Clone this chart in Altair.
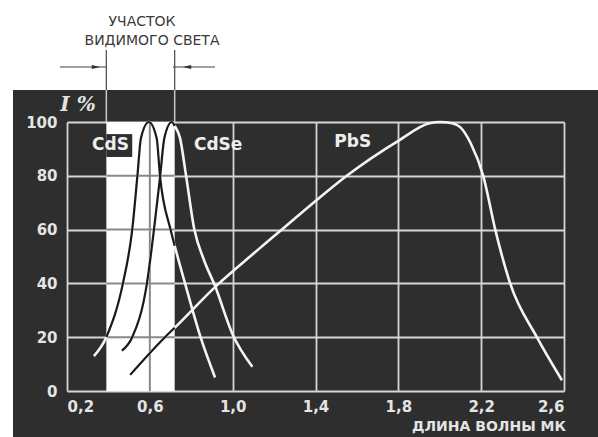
import altair as alt
import pandas as pd

# ---------------- data ----------------
cds_x = [0.33, 0.39, 0.47, 0.515, 0.54, 0.557, 0.595, 0.633, 0.649, 0.70, 0.72, 0.77, 0.845, 0.915]
cds_y = [13, 20, 40, 60, 80, 94, 100, 94, 80, 60, 54, 40, 20, 5]

cdse_x = [0.465, 0.515, 0.586, 0.62, 0.65, 0.67, 0.706, 0.72, 0.746, 0.775, 0.815, 0.86, 0.915, 1.0, 1.095]
cdse_y = [15, 20, 40, 60, 80, 94, 100, 98.5, 94, 80, 60, 49, 39, 21, 9]

pbs_x = [0.505, 0.673, 0.72, 0.92, 1.084, 1.245, 1.406, 1.551, 1.80, 1.95, 2.0, 2.06, 2.10, 2.15, 2.21, 2.268, 2.34, 2.469, 2.59]
pbs_y = [6, 20, 23.5, 39, 50, 60.5, 71, 80, 93, 99.5, 100, 99.5, 98, 92, 80, 60, 40, 20, 4]

band_edges = [0.39, 0.72]          # visible light region (microns)
x_ticks = [0.2, 0.6, 1.0, 1.4, 1.8, 2.2, 2.6]
y_ticks = [0, 20, 40, 60, 80, 100]
band_grid_y = [20, 40, 60, 80]
band_grid_x = [0.6]

curve_names = ["CdS", "CdSe", "PbS"]
label_x = [0.41, 0.93, 1.58]
label_y = [91.4, 91.4, 92.6]

title_lines = ["УЧАСТОК", "ВИДИМОГО СВЕТА"]
y_title = "I %"
x_title = "ДЛИНА ВОЛНЫ МК"

# ---------------- tables ----------------
curves = pd.concat([
    pd.DataFrame({"x": cds_x, "y": cds_y, "s": "CdS"}),
    pd.DataFrame({"x": cdse_x, "y": cdse_y, "s": "CdSe"}),
    pd.DataFrame({"x": pbs_x, "y": pbs_y, "s": "PbS"}),
], ignore_index=True)

lo, hi = band_edges
band_df = pd.DataFrame({"x": [lo], "x1": [hi], "y": [0], "y1": [100]})
edges_df = pd.DataFrame({"x": band_edges})
bgrid_h = pd.DataFrame({"y": band_grid_y, "x": [lo] * len(band_grid_y), "x1": [hi] * len(band_grid_y)})
bgrid_v = pd.DataFrame({"x": band_grid_x, "y": [0], "y1": [100]})
labels_df = pd.DataFrame({"x": label_x, "y": label_y, "t": curve_names})
patch_df = pd.DataFrame({"x": [lo], "x1": [0.515], "y": [87], "y1": [95.5]})
one = pd.DataFrame({"a": [0]})

W, H = 497, 269
BG = "#2e2e2e"
LIGHT = "#e4e4e4"
FONT = "DejaVu Sans"

xs = alt.Scale(domain=[0.2, 2.6], nice=False, zero=False)
ys = alt.Scale(domain=[0, 100], nice=False, zero=False)

label_expr = "replace(format(datum.value, '.1f'), '.', ',')"
AX = alt.Axis(
    values=x_ticks, grid=True, gridColor="#d6d6d6", gridWidth=1.8,
    domain=False, ticks=False, labelExpr=label_expr, labelPadding=8,
    labelFont=FONT, labelFontSize=15, labelFontWeight="bold",
    labelColor=LIGHT, title=None)
AY = alt.Axis(
    values=y_ticks, grid=True, gridColor="#d6d6d6", gridWidth=1.8,
    domain=False, ticks=False, labelPadding=10,
    labelFont=FONT, labelFontSize=15, labelFontWeight="bold",
    labelColor=LIGHT, title=None)


def qx(f="x"):
    return alt.X(f, type="quantitative", scale=xs, axis=AX)


def qy(f="y"):
    return alt.Y(f, type="quantitative", scale=ys, axis=AY)


# white frame outside the dark panel (top area and thin left strip)
top_white = alt.Chart(one).mark_rect(color="white").encode(
    x=alt.value(-67), x2=alt.value(W + 34), y=alt.value(-122), y2=alt.value(-32))
left_white = alt.Chart(one).mark_rect(color="white").encode(
    x=alt.value(-67), x2=alt.value(-54), y=alt.value(-32), y2=alt.value(H + 46))

# visible light band with its own faint grid
band = alt.Chart(band_df).mark_rect(color="white").encode(
    x=qx(), x2="x1", y=qy(), y2="y1")
bg_h = alt.Chart(bgrid_h).mark_rule(color="#888888", strokeWidth=2).encode(
    x=qx(), x2="x1", y=qy())
bg_v = alt.Chart(bgrid_v).mark_rule(color="#888888", strokeWidth=2).encode(
    x=qx(), y=qy(), y2="y1")
patch = alt.Chart(patch_df).mark_rect(color=BG).encode(
    x=qx(), x2="x1", y=qy(), y2="y1")

white_curves = alt.Chart(curves).mark_line(
    color="#f4f4f4", strokeWidth=2.6, interpolate="monotone").encode(
    x=qx(), y=qy(), detail="s:N")

black_curves = alt.Chart(curves).transform_filter(
    f"datum.x >= {lo} && datum.x <= {hi}"
).mark_line(color="#1a1a1a", strokeWidth=2.2, interpolate="monotone").encode(
    x=qx(), y=qy(), detail="s:N")

# boundary lines above the plot, with arrows
edge_dark_zone = alt.Chart(edges_df).mark_rule(color="#c8c8c8", strokeWidth=1.5).encode(
    x=qx(), y=alt.value(-32), y2=alt.value(0))
edge_white_zone = alt.Chart(edges_df).mark_rule(color="#555555", strokeWidth=1.3).encode(
    x=qx(), y=alt.value(-72), y2=alt.value(-32))

arrow_l = alt.Chart(one).mark_rule(color="#444444", strokeWidth=1.2).encode(
    x=alt.value(-7), x2=alt.value(39), y=alt.value(-55))
arrow_r = alt.Chart(one).mark_rule(color="#444444", strokeWidth=1.2).encode(
    x=alt.value(106), x2=alt.value(148), y=alt.value(-55))
head_l = alt.Chart(one).mark_point(
    shape="M-1,-0.45L1,0L-1,0.45Z", filled=True, color="#333333", size=70, opacity=1).encode(
    x=alt.value(29), y=alt.value(-55))
head_r = alt.Chart(one).mark_point(
    shape="M1,-0.45L-1,0L1,0.45Z", filled=True, color="#333333", size=70, opacity=1).encode(
    x=alt.value(120), y=alt.value(-55))

title1 = alt.Chart(one).mark_text(
    text=title_lines[0], font=FONT, fontSize=14, color="#3a3a3a", align="center", baseline="middle").encode(
    x=alt.value(75), y=alt.value(-100))
title2 = alt.Chart(one).mark_text(
    text=title_lines[1], font=FONT, fontSize=14, color="#3a3a3a", align="center", baseline="middle").encode(
    x=alt.value(85), y=alt.value(-81))

ytitle = alt.Chart(one).mark_text(
    text=y_title, font="DejaVu Serif", fontSize=20, fontStyle="italic", fontWeight="bold",
    color=LIGHT, align="center", baseline="middle").encode(
    x=alt.value(11), y=alt.value(-17))

xtitle = alt.Chart(one).mark_text(
    text=x_title, font=FONT, fontSize=14, fontWeight="bold",
    color=LIGHT, align="left", baseline="middle").encode(
    x=alt.value(345), y=alt.value(305))

curve_labels = alt.Chart(labels_df).mark_text(
    font=FONT, fontSize=17, fontWeight="bold", color="#eeeeee", align="center", baseline="middle").encode(
    x=qx(), y=qy(), text="t:N")

chart = alt.layer(
    top_white, left_white, band, bg_h, bg_v, patch,
    white_curves, black_curves,
    edge_dark_zone, edge_white_zone, arrow_l, arrow_r, head_l, head_r,
    title1, title2, ytitle, xtitle, curve_labels,
).properties(
    width=W, height=H,
    padding={"left": 67, "top": 122, "right": 34, "bottom": 46},
    autosize=alt.AutoSizeParams(type="none"),
    background=BG,
).configure_view(strokeWidth=0)

chart.save("out.html", embed_options={"renderer": "svg", "actions": False})
